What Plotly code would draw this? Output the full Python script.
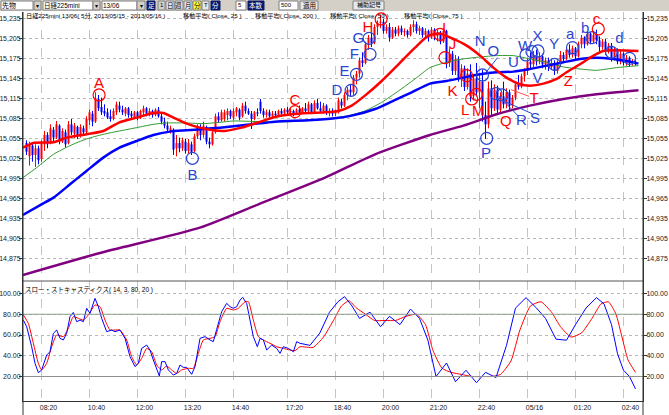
import plotly.graph_objects as go

# ---------------- data ----------------
tick_idx = [5, 21, 37, 53, 69, 87, 103, 119, 135, 151, 167, 183, 199]
tick_txt = ["08:20", "10:40", "12:00", "13:20", "14:40", "17:20", "18:40",
            "20:00", "21:20", "22:40", "05/16", "01:20", "02:40"]

ohlc = [
 (15048,15052,15030,15035),(15028,15050,15014,15045),(15044,15048,15020,15030),(15030,15046,15012,15040),
 (15040,15044,15016,15022),(15024,15052,15020,15048),(15046,15066,15036,15060),(15060,15064,15040,15046),
 (15048,15076,15046,15070),(15068,15072,15050,15056),(15056,15081,15054,15076),(15074,15076,15046,15050),
 (15050,15070,15048,15066),(15064,15068,15041,15046),(15048,15081,15046,15076),(15076,15084,15060,15064),
 (15062,15078,15055,15074),(15072,15074,15054,15058),(15058,15076,15056,15072),(15070,15074,15060,15064),
 (15064,15088,15062,15084),(15082,15098,15075,15094),(15092,15096,15073,15080),(15080,15124,15078,15114),
 (15114,15120,15096,15100),(15102,15116,15090,15094),(15096,15106,15088,15092),(15094,15100,15084,15086),
 (15088,15098,15080,15084),(15084,15100,15082,15096),(15094,15110,15090,15106),(15104,15110,15094,15098),
 (15098,15104,15090,15094),(15092,15102,15088,15100),(15100,15102,15086,15090),(15092,15096,15084,15088),
 (15086,15096,15084,15094),(15094,15096,15082,15086),(15086,15098,15084,15096),(15094,15104,15090,15100),
 (15100,15102,15088,15092),(15092,15100,15088,15096),(15096,15098,15086,15090),(15090,15100,15088,15098),
 (15098,15102,15086,15088),(15088,15092,15076,15080),(15080,15086,15070,15074),(15074,15080,15064,15068),
 (15066,15074,15062,15070),(15068,15070,15030,15038),(15040,15060,15028,15048),(15048,15056,15034,15040),
 (15040,15056,15036,15052),(15050,15054,15032,15036),(15036,15054,15032,15048),(15046,15050,15030,15034),
 (15036,15062,15034,15058),(15058,15076,15054,15072),(15070,15076,15052,15060),(15060,15080,15056,15074),
 (15072,15074,15046,15050),(15050,15056,15040,15046),(15046,15068,15044,15064),(15064,15092,15062,15088),
 (15088,15094,15078,15082),(15082,15098,15080,15094),(15084,15098,15080,15094),(15090,15100,15082,15096),
 (15096,15098,15084,15088),(15086,15100,15082,15096),(15094,15102,15088,15100),(15098,15100,15082,15086),
 (15088,15108,15086,15104),(15104,15110,15092,15096),(15096,15100,15090,15092),(15092,15096,15069,15084),
 (15084,15096,15082,15094),(15094,15100,15088,15092),(15110,15114,15092,15096),(15096,15100,15086,15090),
 (15090,15098,15086,15094),(15094,15098,15086,15088),(15088,15096,15084,15092),(15092,15096,15086,15090),
 (15090,15098,15088,15096),(15096,15100,15088,15092),(15092,15100,15090,15098),(15098,15102,15090,15094),
 (15094,15100,15090,15096),(15096,15098,15088,15092),(15092,15100,15090,15098),(15098,15104,15092,15094),
 (15094,15102,15092,15100),(15100,15108,15094,15096),(15096,15110,15094,15106),(15106,15108,15092,15094),
 (15094,15112,15092,15108),(15108,15114,15098,15100),(15100,15110,15094,15096),(15096,15108,15092,15104),
 (15104,15106,15090,15094),(15094,15100,15088,15096),(15096,15100,15088,15092),(15092,15098,15088,15094),
 (15094,15116,15092,15112),(15110,15114,15100,15104),(15104,15124,15102,15120),(15120,15132,15112,15128),
 (15128,15136,15118,15124),(15124,15150,15120,15146),(15146,15156,15136,15152),(15152,15176,15146,15172),
 (15172,15184,15162,15168),(15168,15200,15166,15196),(15196,15210,15188,15206),(15206,15214,15192,15198),
 (15198,15226,15196,15222),(15222,15232,15210,15228),(15228,15240,15220,15230),(15230,15234,15212,15216),
 (15216,15226,15212,15222),(15222,15228,15200,15206),(15206,15222,15204,15218),(15218,15222,15208,15212),
 (15212,15224,15208,15220),(15220,15224,15210,15214),(15214,15220,15208,15216),(15216,15218,15206,15210),
 (15210,15226,15208,15222),(15222,15232,15214,15226),(15226,15230,15212,15216),(15216,15224,15210,15220),
 (15220,15222,15206,15210),(15210,15220,15204,15216),(15216,15218,15200,15206),(15206,15222,15204,15218),
 (15218,15220,15202,15208),(15208,15218,15200,15214),(15214,15216,15196,15200),(15200,15220,15198,15216),
 (15216,15218,15160,15168),(15168,15190,15162,15182),(15182,15186,15150,15156),(15156,15180,15150,15174),
 (15174,15178,15140,15146),(15146,15166,15132,15160),(15160,15164,15126,15132),(15132,15160,15128,15152),
 (15152,15166,15110,15118),(15118,15150,15112,15144),(15144,15168,15118,15124),(15124,15152,15100,15140),
 (15140,15158,15080,15090),(15090,15110,15054,15076),(15076,15140,15070,15130),(15130,15142,15090,15100),
 (15100,15136,15096,15128),(15128,15134,15092,15098),(15098,15124,15094,15118),(15118,15140,15100,15106),
 (15106,15130,15100,15124),(15124,15128,15098,15104),(15104,15120,15100,15116),(15116,15140,15112,15136),
 (15136,15150,15128,15132),(15132,15152,15130,15148),(15148,15160,15140,15156),(15156,15176,15150,15170),
 (15170,15184,15160,15166),(15166,15186,15162,15180),(15180,15188,15164,15170),(15170,15184,15166,15178),
 (15178,15182,15160,15166),(15166,15176,15158,15172),(15172,15176,15156,15162),(15162,15174,15158,15168),
 (15168,15172,15150,15156),(15156,15172,15152,15166),(15166,15186,15162,15180),(15180,15184,15170,15174),
 (15174,15192,15172,15188),(15188,15196,15176,15180),(15180,15194,15176,15190),(15190,15192,15174,15178),
 (15178,15200,15176,15196),(15196,15210,15190,15206),(15206,15208,15190,15196),(15196,15216,15194,15212),
 (15212,15214,15196,15200),(15200,15216,15198,15210),(15210,15218,15196,15202),(15202,15208,15186,15192),
 (15192,15204,15188,15200),(15200,15204,15180,15186),(15186,15198,15182,15194),(15194,15198,15170,15176),
 (15176,15192,15172,15188),(15188,15190,15166,15170),(15170,15186,15166,15182),(15182,15184,15164,15168),
 (15168,15180,15164,15176),(15176,15178,15162,15168),(15168,15174,15164,15170),(15170,15172,15164,15166),
]
bar_open = [r[0] for r in ohlc]
bar_high = [r[1] for r in ohlc]
bar_low = [r[2] for r in ohlc]
bar_close = [r[3] for r in ohlc]
bar_idx = list(range(len(ohlc)))

ma25_x = [-1.2, 2.3, 9, 13.4, 20, 25.6, 31, 36.7, 42.3, 45.6, 49, 53.4, 57.8, 62.3, 66, 71.7, 77.3, 82.8, 88.4, 94, 99.5,
          104, 108.4, 112.8, 118.4, 124, 129.5, 134, 137.8, 142.3, 146.7, 151.2, 155.6, 160, 164.5, 167.8, 172.3, 176.7,
          180, 184.5, 189, 192.3, 196.7, 204]
ma25_y = [15041, 15048, 15049, 15056, 15061, 15066, 15079, 15086, 15093, 15093, 15086, 15077, 15071, 15067, 15066, 15071,
          15079, 15087, 15091, 15093, 15094, 15096, 15104, 15119, 15141, 15166, 15191, 15209, 15212, 15204, 15194, 15179,
          15161, 15146, 15136, 15134, 15137, 15144, 15154, 15166, 15179, 15186, 15187, 15186]
ma75_x = [-1.2, 5, 9, 14.5, 20, 25.6, 31, 36.7, 42.3, 47.8, 53.4, 59, 64.5, 69, 75, 82.8, 94, 102.8, 108.4, 116.2, 121.7,
          128.4, 134.5, 140, 145.6, 151.2, 156.7, 162.3, 167.8, 173.4, 179, 184.5, 190, 195.6, 201.2, 204]
ma75_y = [14940, 14956, 14966, 14986, 15006, 15026, 15041, 15051, 15060, 15065, 15067, 15069, 15071, 15073, 15076, 15080,
          15082, 15085, 15089, 15099, 15110, 15124, 15137, 15141, 15146, 15151, 15154, 15155, 15159, 15164, 15169, 15174,
          15176, 15174, 15170, 15167]
ma50_x = [-1.2, 3.4, 9, 14.5, 20, 25.6, 31, 36.7, 42.3, 46.7, 53.4, 59, 64.5, 69, 77.3, 88.4, 99.5, 107.3, 112.8, 118.4,
          124, 129.5, 134.5, 140, 145.6, 151.2, 156.7, 162.3, 167.8, 173.4, 179, 184.5, 190, 196.7, 204]
ma50_y = [14996, 15011, 15031, 15044, 15054, 15061, 15066, 15071, 15076, 15078, 15078, 15077, 15079, 15081, 15080, 15080,
          15084, 15089, 15096, 15109, 15126, 15144, 15161, 15169, 15174, 15177, 15179, 15179, 15174, 15169, 15162, 15159,
          15157, 15161, 15164]
ma200_x = [-1.2, 24.5, 57.8, 77.3, 99.5, 116.2, 134.5, 145.6, 156.7, 167.8, 179, 190, 204]
ma200_y = [14850, 14883, 14921, 14956, 14996, 15031, 15060, 15074, 15091, 15104, 15114, 15121, 15127]

stk_k_x = [-1.05, 0.06, 1.72, 2.84, 3.95, 5.06, 6.73, 7.84, 8.95, 10.06, 11.17, 12.28, 13.39, 14.5, 15.61, 16.72, 17.84,
           18.95, 20.06, 21.17, 22.84, 23.95, 25.06, 26.73, 28.39, 29.5, 31.17, 32.84, 34.5, 36.17, 37.28, 38.39, 40.06,
           41.17, 42.28, 43.39, 44.28, 45.06, 46.17, 47.28, 48.95, 50.06, 51.17, 52.28, 53.39, 55.06, 56.17, 57.84, 59.5,
           61.17, 62.28, 63.39, 65.06, 66.73, 67.84, 68.95, 70.06, 71.17, 72.06, 73.39, 74.5, 75.61, 76.95, 77.84, 78.95,
           80.06, 81.73, 83.39, 84.5, 85.61, 87.28, 88.95, 90.06, 91.17,
           94.5, 97.8, 101, 103.8, 106, 108.5, 111, 114.5, 118, 121, 124.5, 128, 131, 133.8, 136.5, 140, 143, 146.5, 150,
           153, 156.5, 160, 163, 166.5, 170, 173, 176.5, 180, 183, 186.5, 190, 192.5, 195, 197, 199, 201, 203]
stk_k_y = [74.4, 68, 48.7, 32.7, 23.7, 26.3, 40.7, 43.9, 61.6, 64.8, 56.8, 55.2, 61.6, 77.7, 81.8, 72.8, 74.4, 72.8, 85.7,
           80.9, 95.3, 87.3, 76.1, 63.2, 64.8, 63.2, 64.8, 56.8, 39.1, 29.5, 32.7, 47.1, 50.3, 45.5, 35.9, 26.3, 20.5, 34.3,
           34.3, 26.3, 21.4, 23, 31.1, 28.8, 28.8, 22.1, 29.5, 56.8, 58.4, 55.2, 53.6, 65.4, 82.5, 90.5, 87.3, 85.7, 87.3,
           93.7, 96.3, 90.5, 74.4, 58.4, 48.7, 56.8, 55.2, 45.5, 50.3, 47.1, 42.3, 48.7, 47.1, 43.9, 53.6, 52,
           50, 62, 82, 92, 97, 88, 76, 82, 68, 78, 70, 85, 76, 55, 20, 33, 15, 26, 14, 24, 19, 50, 86, 96, 86, 76, 56, 55,
           70, 86, 96, 90, 70, 42, 26, 20, 8]
stk_d_x = [-1.05, 0.61, 2.28, 3.95, 5.06, 6.73, 8.39, 10.06, 12.28, 13.95, 15.61, 17.28, 18.95, 20.61, 22.84, 24.5, 26.17,
           27.84, 29.5, 31.17, 33.39, 35.06, 36.72, 38.39, 40.06, 41.72, 43.39, 45.06, 46.72, 48.39, 50.06, 51.72, 53.95,
           55.61, 57.28, 58.95, 61.17, 62.84, 64.5, 66.73, 68.95, 70.61, 72.84, 73.95, 75.61, 77.28, 78.95, 81.17, 83.39,
           85.61, 87.83, 89.5, 91.17,
           95.5, 99, 102.5, 105, 107.5, 110, 113, 116, 119.5, 123, 126.5, 130, 133, 135.5, 138.5, 141.5, 145, 148.5, 152,
           155, 158, 161.5, 164.5, 168, 171.5, 175, 178, 181.5, 185, 188.5, 191.5, 194, 196.5, 198.5, 200.5, 203]
stk_d_y = [79.3, 71.2, 52, 32.7, 26.3, 32.7, 48.7, 60, 58.4, 66.4, 77.7, 76.1, 74.4, 79.3, 88.9, 87.3, 74.4, 64.8, 64.8,
           64.8, 55.2, 39.1, 31.1, 37.5, 47.1, 43.9, 31.1, 26.3, 30.1, 26.3, 23, 26.3, 27.9, 27.9, 42.3, 55.2, 56.8, 58.4,
           72.8, 85.7, 84.1, 85.7, 92.1, 92.1, 74.4, 58.4, 55.2, 52, 48.7, 47.1, 45.5, 44.9, 48.7,
           48, 58, 75, 88, 93, 86, 80, 74, 74, 74, 78, 80, 70, 45, 28, 24, 22, 20, 20, 20, 22, 35, 65, 88, 92, 82, 68, 58,
           62, 76, 90, 92, 80, 58, 36, 24, 14]

lbl_txt = ["A", "B", "C", "D", "E", "F", "G", "H", "I", "J", "K", "L", "M", "N", "O", "P", "Q", "R", "S", "T",
           "U", "V", "W", "X", "Y", "Z", "a", "b", "c", "d"]
lbl_x = [24.2, 55.3, 89.5, 103.5, 106, 109.3, 110.6, 113.8, 139.2, 142, 142, 146.2, 150.6, 151.2, 155.6, 153.2, 159.8,
         165, 169.5, 169.2, 162.3, 170.3, 166.2, 170.3, 175.8, 180.6, 181.2, 186.2, 190, 197.6]
lbl_y = [15136, 14998, 15110, 15126, 15154, 15180, 15203, 15220.5, 15218, 15194, 15124, 15096, 15094, 15199, 15184,
         15031, 15079, 15080, 15084, 15114, 15167, 15144, 15191, 15206, 15195, 15139, 15209, 15219, 15232, 15204]
lbl_red = ["A", "C", "H", "I", "J", "K", "L", "M", "Q", "T", "Z", "c"]

circ_x = [24.2, 55.3, 89.5, 108.2, 110, 114.5, 114.2, 118.2, 137.8, 139.5, 146.7, 148.4, 150, 153.4, 152, 156.5,
          158.5, 166.5, 168.5, 170.5, 176, 182, 188.5, 190.6, 195, 201]
circ_y = [15120, 15025, 15095, 15127, 15151, 15181, 15205, 15234, 15211, 15176, 15149, 15114, 15121, 15055, 15150,
          15122, 15120, 15180, 15185, 15186, 15166, 15191, 15206, 15219, 15184, 15175]
circ_col = ["r", "b", "r", "b", "b", "b", "b", "r", "r", "r", "r", "r", "r", "b", "b", "b", "b", "b", "b", "b",
            "b", "b", "b", "r", "b", "b"]

blue_conn_x = [157, 152.5, None, 164, 157.5, None, 168.5, 159.5]
blue_conn_y = [15176, 15150, None, 15088, 15118, None, 15092, 15110]
red_conn_x = [167.5, 161.5]
red_conn_y = [15118, 15128]

# ---------------- geometry ----------------
W, H = 669, 415
ML, MR, MT, MB = 23, 26, 12, 14
PW, PH = W - ML - MR, H - MT - MB
split_px = 281
stoch_frac = (H - MB - split_px) / PH


def px(xp):
    return (xp - ML) / PW


def py(yp):
    return (H - MB - yp) / PH


RED = "#ff0000"
BLUE = "#0000ff"
LBLUE = "#2b45d0"
JP = "Noto Sans CJK JP"
NUM = "Liberation Sans"
SMALL = "Liberation Sans, Noto Sans CJK JP"

fig = go.Figure()


def segs(sel, a, b):
    xs, ys = [], []
    for i in sel:
        xs += [bar_idx[i], bar_idx[i], None]
        ys += [a[i], b[i], None]
    return xs, ys


up = [i for i in bar_idx if bar_close[i] >= bar_open[i]]
dn = [i for i in bar_idx if bar_close[i] < bar_open[i]]
for sel, col in [(up, RED), (dn, BLUE)]:
    wx, wy = segs(sel, bar_low, bar_high)
    fig.add_trace(go.Scatter(x=wx, y=wy, mode="lines", line=dict(color=col, width=1), xaxis="x", yaxis="y",
                             showlegend=False, hoverinfo="skip"))
    bx, by = segs(sel, bar_open, bar_close)
    fig.add_trace(go.Scatter(x=bx, y=by, mode="lines", line=dict(color=col, width=2), xaxis="x", yaxis="y",
                             showlegend=False, hoverinfo="skip"))

for xs, ys, col, w in [(ma200_x, ma200_y, "#800080", 2.5), (ma50_x, ma50_y, "#2e9a2e", 1),
                       (ma75_x, ma75_y, BLUE, 2.5), (ma25_x, ma25_y, RED, 2.5)]:
    fig.add_trace(go.Scatter(x=xs, y=ys, mode="lines", line=dict(color=col, width=w, shape="spline", smoothing=0.6),
                             xaxis="x", yaxis="y", showlegend=False, hoverinfo="skip"))

fig.add_trace(go.Scatter(x=blue_conn_x, y=blue_conn_y, mode="lines", line=dict(color=LBLUE, width=1),
                         xaxis="x", yaxis="y", showlegend=False, hoverinfo="skip", connectgaps=False))
fig.add_trace(go.Scatter(x=red_conn_x, y=red_conn_y, mode="lines", line=dict(color="#ff5050", width=1),
                         xaxis="x", yaxis="y", showlegend=False, hoverinfo="skip"))

fig.add_trace(go.Scatter(
    x=circ_x, y=circ_y, mode="markers",
    marker=dict(symbol="circle-open", size=12, color=[RED if c == "r" else LBLUE for c in circ_col],
                line=dict(width=1.2)),
    xaxis="x", yaxis="y", showlegend=False, hoverinfo="skip"))

fig.add_trace(go.Scatter(
    x=lbl_x, y=lbl_y, mode="text", text=lbl_txt,
    textfont=dict(family="Liberation Sans", size=15, color=[RED if t in lbl_red else LBLUE for t in lbl_txt]),
    xaxis="x", yaxis="y", showlegend=False, hoverinfo="skip"))

fig.add_trace(go.Scatter(x=[bar_idx[0]], y=[bar_close[0]], mode="markers", marker=dict(opacity=0),
                         xaxis="x", yaxis="y3", showlegend=False, hoverinfo="skip"))

fig.add_trace(go.Scatter(x=stk_d_x, y=stk_d_y, mode="lines",
                         line=dict(color=RED, width=1, shape="spline", smoothing=0.5),
                         xaxis="x2", yaxis="y2", showlegend=False, hoverinfo="skip"))
fig.add_trace(go.Scatter(x=stk_k_x, y=stk_k_y, mode="lines", line=dict(color=BLUE, width=1),
                         xaxis="x2", yaxis="y2", showlegend=False, hoverinfo="skip"))
fig.add_trace(go.Scatter(x=[stk_k_x[0]], y=[stk_k_y[0]], mode="markers", marker=dict(opacity=0),
                         xaxis="x2", yaxis="y4", showlegend=False, hoverinfo="skip"))

xr = [(ML - 26.5) / 3, (ML + PW - 26.5) / 3]
main_rng = [15235 - (281 - 18.3) * 1.5, 15235 + (18.3 - 12) * 1.5]
st_rng = [20 - (401 - 376.5) / 1.0375, 20 + (376.5 - 281) / 1.0375]

grid = dict(showgrid=True, gridcolor="#b8b8b8", griddash="dot", gridwidth=1)
price_ticks = [14875 + 30 * k for k in range(13)]
st_ticks = [20, 40, 60, 80, 100]
axfont = dict(family=NUM, size=7, color="#202020")
left_common = dict(ticks="outside", ticklen=3, tickcolor="#333", tickfont=axfont, zeroline=False,
                   showline=True, linecolor="#333", linewidth=1, automargin=False, ticklabelstandoff=-3)
right_common = dict(ticks="outside", ticklen=3, tickcolor="#333", tickfont=axfont, zeroline=False, showgrid=False,
                    showline=True, linecolor="#333", linewidth=1, automargin=False, ticklabelstandoff=-2)

fig.update_layout(
    width=W, height=H, margin=dict(l=ML, r=MR, t=MT, b=MB),
    paper_bgcolor="white", plot_bgcolor="white", showlegend=False,
    xaxis=dict(domain=[0, 1], anchor="y", range=xr, tickvals=tick_idx, showticklabels=False, zeroline=False,
               showline=False, showgrid=True, gridcolor="#c4c4c4", griddash="dash", gridwidth=1),
    yaxis=dict(domain=[stoch_frac, 1], anchor="x", range=main_rng, tickvals=price_ticks, tickformat=",d",
               **left_common, **grid),
    yaxis3=dict(overlaying="y", side="right", anchor="x", range=main_rng, tickvals=price_ticks, tickformat=",d",
                **right_common),
    xaxis2=dict(domain=[0, 1], anchor="y2", range=xr, tickvals=tick_idx, ticktext=tick_txt, tickfont=axfont,
                ticks="", ticklabelshift=7, zeroline=False, showline=True, linecolor="#333", linewidth=1,
                showgrid=True, gridcolor="#c4c4c4", griddash="dash", gridwidth=1, automargin=False),
    yaxis2=dict(domain=[0, stoch_frac], anchor="x2", range=st_rng, tickvals=st_ticks, tickformat=".2f",
                **left_common, **grid),
    yaxis4=dict(overlaying="y2", side="right", anchor="x2", range=st_rng, tickvals=st_ticks, tickformat=".2f",
                **right_common),
)

shapes = []
annos = []

for v, c in [(80, "#8aa08a"), (20, "#909090")]:
    shapes.append(dict(type="line", xref="x2 domain", yref="y2", x0=0, x1=1, y0=v, y1=v,
                       line=dict(color=c, width=1)))
shapes.append(dict(type="line", xref="paper", yref="paper", x0=0, x1=1, y0=stoch_frac, y1=stoch_frac,
                   line=dict(color="#555", width=1)))
for xp in (ML, ML + PW):
    shapes.append(dict(type="line", xref="paper", yref="paper", x0=px(xp), x1=px(xp), y0=py(H), y1=py(MT),
                       line=dict(color="#333", width=1)))

shapes.append(dict(type="rect", xref="paper", yref="paper", x0=px(0), x1=px(W), y0=py(11), y1=py(0),
                   fillcolor="#d4d0c8", line=dict(width=0), layer="above"))


def box(x0, x1, fill="white", line="#808080", y0=1, y1=10):
    shapes.append(dict(type="rect", xref="paper", yref="paper", x0=px(x0), x1=px(x1), y0=py(y1), y1=py(y0),
                       fillcolor=fill, line=dict(color=line, width=1), layer="above"))


def txt(x, s, color="black", size=7, y=5.5, anchor="left", family=JP):
    annos.append(dict(xref="paper", yref="paper", x=px(x), y=py(y), text=s, showarrow=False, xanchor=anchor,
                      yanchor="middle", borderpad=0, borderwidth=0,
                      font=dict(family=family, size=size, color=color)))


box(1, 33); txt(2, "先物")
box(34, 41, fill="#d4d0c8"); txt(37.5, "▾", anchor="center", size=6)
box(43, 93); txt(44, "日経225mini", size=6.5, family=SMALL)
box(93, 100, fill="#d4d0c8"); txt(96.5, "▾", anchor="center", size=6)
box(102, 137); txt(103, "13/06", size=6.5, family=SMALL)
box(137, 145, fill="#d4d0c8"); txt(141, "▾", anchor="center", size=6)
box(147, 155, fill="#0a1a6a", line="#0a1a6a"); txt(151, "足", color="white", anchor="center", size=6.5)
box(158, 165, fill="#d4d0c8"); txt(161.5, "1", anchor="center", size=6, family=NUM)
box(166, 174, fill="#e8e8e8"); txt(170, "日", anchor="center", size=6.5)
box(175, 183, fill="#e8e8e8"); txt(179, "週", anchor="center", size=6.5)
box(184, 192, fill="#e8e8e8"); txt(188, "月", anchor="center", size=6.5)
box(193, 201, fill="#ffff40"); txt(197, "分", anchor="center", size=6.5)
box(202, 209, fill="#e8e8e8"); txt(205.5, "T", anchor="center", size=6, family=NUM)
box(211, 220, fill="#0a1a6a", line="#0a1a6a"); txt(215.5, "分", color="white", anchor="center", size=6.5)
box(236, 246); txt(238, "5", size=6, family=NUM)
box(248, 264, fill="#0a1a6a", line="#0a1a6a"); txt(256, "本数", color="white", anchor="center", size=6.5)
box(279, 298); txt(281, "500", size=6, family=NUM)
box(300, 318, fill="#e8e8e8"); txt(309, "適用", anchor="center", size=6.5)
box(353, 384, fill="#e8e8e8"); txt(368.5, "補助記号", anchor="center", size=6, y=5)

txt(26, "日経225mini 13/06( 5分, 2013/05/15 - 2013/05/16 )", size=6.2, y=15.5, family=SMALL)
txt(183, "移動平均( Close, 25 )", size=6.2, y=15.5, family=SMALL)
txt(255, "移動平均( Close, 200 )", size=6.2, y=15.5, family=SMALL)
txt(330, "移動平均( Close, 50 )", size=6.2, y=15.5, family=SMALL)
txt(404, "移動平均( Close, 75 )", size=6.2, y=15.5, family=SMALL)
txt(25, "スロー・ストキャスティクス( 14, 3, 80, 20 )", size=6.5, y=290, family=SMALL)

fig.update_layout(shapes=shapes, annotations=annos)
fig.write_html("out.html")
